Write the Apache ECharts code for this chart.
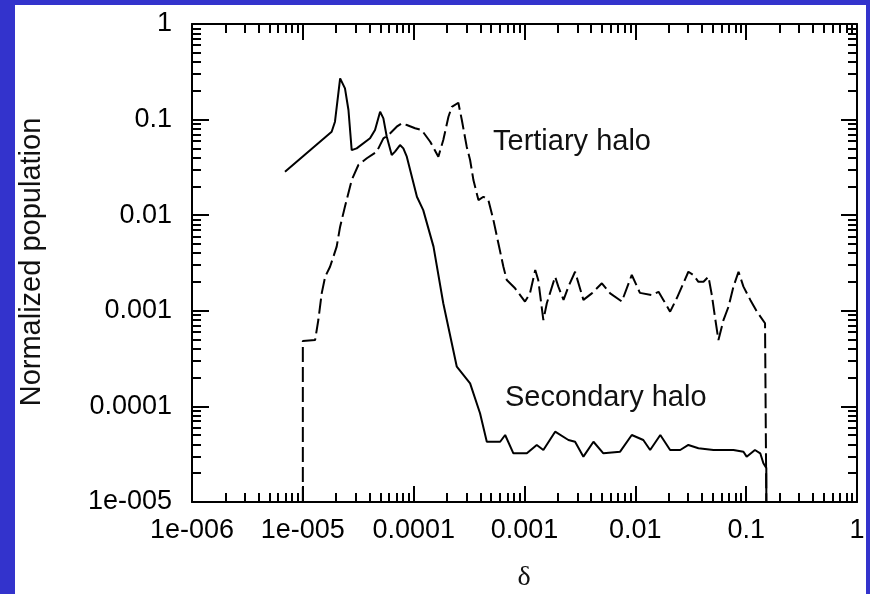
<!DOCTYPE html>
<html>
<head>
<meta charset="utf-8">
<script src="https://cdn.jsdelivr.net/npm/echarts@6/dist/echarts.min.js"></script>
<style>
  html, body { margin: 0; padding: 0; background: #3333cc; }
  #chart { width: 870px; height: 594px; }
</style>
</head>
<body>
<div id="chart"></div>
<script>
// Normalized halo populations as a function of the perturbation δ (log-log).

// Secondary halo (solid curve)
const secondaryDelta = [6.9e-6, 1.82e-5, 1.95e-5, 2.17e-5, 2.40e-5, 2.58e-5, 2.76e-5, 3.06e-5,
  4.04e-5, 4.48e-5, 4.98e-5, 5.33e-5, 5.72e-5, 6.34e-5, 6.79e-5, 7.53e-5, 8.07e-5, 8.67e-5,
  1.07e-4, 1.22e-4, 1.51e-4, 1.85e-4, 2.45e-4, 3.23e-4, 3.97e-4, 4.57e-4, 6.03e-4, 6.69e-4,
  7.94e-4, 1.05e-3, 1.29e-3, 1.48e-3, 1.89e-3, 2.49e-3, 2.86e-3, 3.40e-3, 4.19e-3, 5.15e-3,
  7.29e-3, 9.29e-3, 1.18e-2, 1.36e-2, 1.68e-2, 2.06e-2, 2.54e-2, 3.01e-2, 3.71e-2, 5.07e-2,
  7.68e-2, 9.45e-2, 0.101, 0.120, 0.134, 0.143, 0.152, 0.152];
const secondaryPop = [0.0285, 0.0747, 0.095, 0.27, 0.212, 0.126, 0.048, 0.050,
  0.0637, 0.078, 0.121, 0.103, 0.0662, 0.0426, 0.0462, 0.0542, 0.050, 0.0409,
  0.0156, 0.0113, 0.00469, 0.00120, 2.60e-4, 1.74e-4, 8.47e-5, 4.27e-5, 4.27e-5, 5.02e-5,
  3.23e-5, 3.23e-5, 3.95e-5, 3.50e-5, 5.44e-5, 4.45e-5, 4.27e-5, 2.98e-5, 4.27e-5, 3.23e-5,
  3.36e-5, 5.02e-5, 4.45e-5, 3.50e-5, 5.02e-5, 3.50e-5, 3.50e-5, 3.95e-5, 3.65e-5, 3.50e-5,
  3.50e-5, 3.36e-5, 2.98e-5, 3.50e-5, 3.23e-5, 2.54e-5, 2.27e-5, 1e-5];

// Tertiary halo (dashed curve)
const tertiaryDelta = [1e-5, 1e-5, 1.29e-5, 1.38e-5, 1.48e-5, 1.59e-5, 1.76e-5, 2.02e-5,
  2.17e-5, 2.40e-5, 2.76e-5, 3.17e-5, 3.78e-5, 4.65e-5, 5.33e-5, 5.92e-5, 7.03e-5, 7.81e-5,
  8.67e-5, 1.03e-4, 1.18e-4, 1.41e-4, 1.67e-4, 1.85e-4, 2.06e-4, 2.21e-4, 2.53e-4, 2.72e-4,
  3.01e-4, 3.23e-4, 3.46e-4, 3.84e-4, 4.26e-4, 4.72e-4, 5.24e-4, 5.81e-4, 6.45e-4, 6.92e-4,
  8.22e-4, 1.01e-3, 1.12e-3, 1.25e-3, 1.33e-3, 1.48e-3, 1.59e-3, 1.89e-3, 2.02e-3, 2.25e-3,
  2.49e-3, 2.86e-3, 3.40e-3, 4.05e-3, 4.99e-3, 5.93e-3, 7.55e-3, 9.29e-3, 1.10e-2, 1.41e-2,
  1.62e-2, 1.79e-2, 2.06e-2, 2.37e-2, 2.63e-2, 3.01e-2, 3.34e-2, 3.71e-2, 4.12e-2, 4.57e-2,
  4.90e-2, 5.25e-2, 5.62e-2, 6.24e-2, 6.92e-2, 7.68e-2, 8.53e-2, 9.45e-2, 0.109, 0.125,
  0.148, 0.152, 0.152];
const tertiaryPop = [1e-5, 4.83e-4, 4.95e-4, 8.01e-4, 1.52e-3, 2.27e-3, 2.89e-3, 4.69e-3,
  7.59e-3, 0.0123, 0.0233, 0.0335, 0.0394, 0.0462, 0.0637, 0.0690, 0.0843, 0.0915,
  0.0878, 0.0811, 0.0778, 0.0587, 0.0409, 0.0612, 0.107, 0.136, 0.150, 0.099,
  0.0521, 0.0378, 0.0233, 0.0144, 0.0156, 0.0144, 8.91e-3, 5.08e-3, 2.89e-3, 2.10e-3,
  1.72e-3, 1.25e-3, 1.52e-3, 2.67e-3, 2.10e-3, 8.0e-4, 1.20e-3, 2.27e-3, 1.79e-3, 1.30e-3,
  1.79e-3, 2.56e-3, 1.30e-3, 1.52e-3, 1.94e-3, 1.52e-3, 1.25e-3, 2.37e-3, 1.54e-3, 1.46e-3,
  1.58e-3, 1.30e-3, 9.8e-4, 1.36e-3, 1.79e-3, 2.56e-3, 2.37e-3, 2.01e-3, 2.01e-3, 2.27e-3,
  1.46e-3, 8.35e-4, 4.95e-4, 8.0e-4, 1.10e-3, 1.79e-3, 2.56e-3, 1.79e-3, 1.30e-3, 9.8e-4,
  7.40e-4, 7.2e-4, 1e-5];

// Axis decades and their printed labels
const xTickValues = [1e-6, 1e-5, 1e-4, 1e-3, 1e-2, 1e-1, 1];
const xTickLabels = ['1e-006', '1e-005', '0.0001', '0.001', '0.01', '0.1', '1'];
const yTickValues = [1e-5, 1e-4, 1e-3, 1e-2, 1e-1, 1];
const yTickLabels = ['1e-005', '0.0001', '0.001', '0.01', '0.1', '1'];

const seriesNames = ['Secondary halo', 'Tertiary halo'];
const xTitle = 'δ';
const yTitle = 'Normalized population';

// minor ticks at 2..9 × 10^e inside each decade
function minorTickValues(fromExp, toExp) {
  const out = [];
  for (let e = fromExp; e < toExp; e++) {
    for (let k = 2; k <= 9; k++) out.push(Number((k * Math.pow(10, e)).toPrecision(4)));
  }
  return out;
}

function labelFor(values, labels) {
  return function (v) {
    for (let i = 0; i < values.length; i++) {
      if (Math.abs(Math.log10(values[i]) - Math.log10(v)) < 1e-6) return labels[i];
    }
    return '';
  };
}

const SANS = "'Liberation Sans', Arial, Helvetica, sans-serif";
const INK = '#000';

function logAxis(opts) {
  return {
    type: 'log',
    logBase: 10,
    min: opts.min,
    max: opts.max,
    position: opts.position,
    axisLine: { show: opts.line, onZero: false, lineStyle: { color: INK, width: 2 } },
    axisTick: {
      show: true, inside: true, length: opts.tickLen,
      lineStyle: { color: INK, width: 2 },
      customValues: opts.ticks
    },
    axisLabel: opts.labels ? {
      show: true,
      customValues: opts.ticks,
      formatter: labelFor(opts.ticks, opts.labels),
      color: INK,
      fontFamily: SANS,
      fontSize: 27,
      margin: opts.margin
    } : { show: false },
    splitLine: { show: false },
    minorTick: { show: false },
    minorSplitLine: { show: false }
  };
}

const xMinor = minorTickValues(-6, 0);
const yMinor = minorTickValues(-5, 0);

const chart = echarts.init(document.getElementById('chart'), null, { renderer: 'canvas' });

chart.setOption({
  backgroundColor: '#3333cc',
  animation: false,
  grid: { left: 192, right: 13, top: 24, bottom: 92, containLabel: false, outerBoundsMode: 'none' },
  xAxis: [
    logAxis({ min: 1e-6, max: 1, position: 'bottom', line: true, tickLen: 16, ticks: xTickValues, labels: xTickLabels, margin: 15 }),
    logAxis({ min: 1e-6, max: 1, position: 'bottom', line: false, tickLen: 9, ticks: xMinor }),
    logAxis({ min: 1e-6, max: 1, position: 'top', line: true, tickLen: 16, ticks: xTickValues }),
    logAxis({ min: 1e-6, max: 1, position: 'top', line: false, tickLen: 9, ticks: xMinor })
  ],
  yAxis: [
    logAxis({ min: 1e-5, max: 1, position: 'left', line: true, tickLen: 17, ticks: yTickValues, labels: yTickLabels, margin: 20 }),
    logAxis({ min: 1e-5, max: 1, position: 'left', line: false, tickLen: 9, ticks: yMinor }),
    logAxis({ min: 1e-5, max: 1, position: 'right', line: true, tickLen: 16, ticks: yTickValues }),
    logAxis({ min: 1e-5, max: 1, position: 'right', line: false, tickLen: 9, ticks: yMinor })
  ],
  graphic: [
    { type: 'rect', z: -1, silent: true, shape: { x: 15, y: 5, width: 851, height: 600 }, style: { fill: '#ffffff' } },
    { type: 'text', x: 493, y: 142, silent: true,
      style: { text: seriesNames[1], fill: '#111', font: '29px ' + SANS, textAlign: 'left', textVerticalAlign: 'middle' } },
    { type: 'text', x: 505, y: 398, silent: true,
      style: { text: seriesNames[0], fill: '#111', font: '29px ' + SANS, textAlign: 'left', textVerticalAlign: 'middle' } },
    { type: 'text', x: 32, y: 262, rotation: Math.PI / 2, silent: true,
      style: { text: yTitle, fill: '#111', font: '29px ' + SANS, textAlign: 'center', textVerticalAlign: 'middle' } },
    { type: 'text', x: 524, y: 578, silent: true,
      style: { text: xTitle, fill: '#111', font: "28px 'Liberation Serif', 'DejaVu Serif', serif", textAlign: 'center', textVerticalAlign: 'middle' } }
  ],
  series: [
    {
      name: seriesNames[0],
      type: 'line',
      xAxisIndex: 0, yAxisIndex: 0,
      data: secondaryDelta.map((d, i) => [d, secondaryPop[i]]),
      showSymbol: false,
      symbol: 'none',
      lineStyle: { color: INK, width: 2, type: 'solid' },
      z: 3
    },
    {
      name: seriesNames[1],
      type: 'line',
      xAxisIndex: 0, yAxisIndex: 0,
      data: tertiaryDelta.map((d, i) => [d, tertiaryPop[i]]),
      showSymbol: false,
      symbol: 'none',
      lineStyle: { color: INK, width: 2, type: [15, 5] },
      z: 3
    }
  ]
});
</script>
</body>
</html>
